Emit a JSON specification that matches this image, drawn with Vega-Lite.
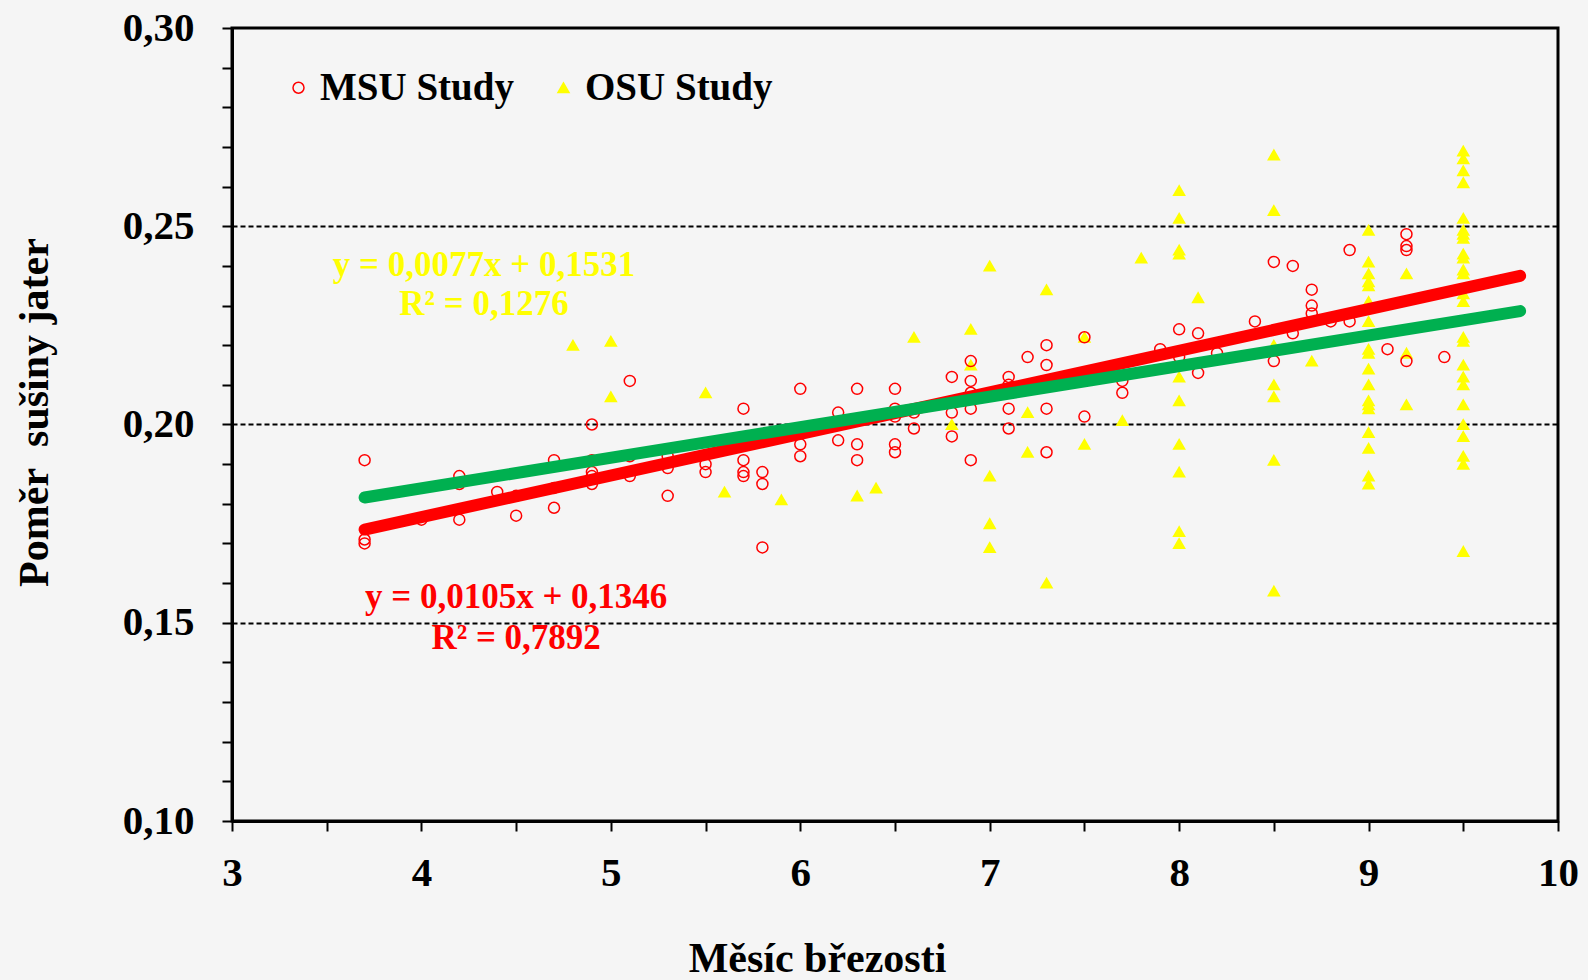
{
  "$schema": "https://vega.github.io/schema/vega-lite/v6.json",
  "width": 1326,
  "height": 793,
  "autosize": {"type": "none"},
  "padding": {"left": 232, "top": 28, "right": 30, "bottom": 159},
  "background": "#F5F5F5",
  "config": {"view": {"stroke": "#000000", "strokeWidth": 3}, "font": "Liberation Serif"},
  "datasets": {
    "pts": [
      {"series":"OSU Study","x":4.8,"y":0.220},
      {"series":"OSU Study","x":5.0,"y":0.221},{"series":"OSU Study","x":5.0,"y":0.207},
      {"series":"OSU Study","x":5.5,"y":0.208},
      {"series":"OSU Study","x":5.6,"y":0.183},
      {"series":"OSU Study","x":5.9,"y":0.181},
      {"series":"OSU Study","x":6.3,"y":0.182},
      {"series":"OSU Study","x":6.4,"y":0.184},
      {"series":"OSU Study","x":6.6,"y":0.222},
      {"series":"OSU Study","x":6.8,"y":0.200},
      {"series":"OSU Study","x":6.9,"y":0.224},{"series":"OSU Study","x":6.9,"y":0.215},
      {"series":"OSU Study","x":7.0,"y":0.240},{"series":"OSU Study","x":7.0,"y":0.187},{"series":"OSU Study","x":7.0,"y":0.175},{"series":"OSU Study","x":7.0,"y":0.169},
      {"series":"OSU Study","x":7.2,"y":0.203},{"series":"OSU Study","x":7.2,"y":0.193},
      {"series":"OSU Study","x":7.3,"y":0.234},{"series":"OSU Study","x":7.3,"y":0.160},
      {"series":"OSU Study","x":7.5,"y":0.222},{"series":"OSU Study","x":7.5,"y":0.195},
      {"series":"OSU Study","x":7.7,"y":0.201},
      {"series":"OSU Study","x":7.8,"y":0.242},
      {"series":"OSU Study","x":8.0,"y":0.259},{"series":"OSU Study","x":8.0,"y":0.252},{"series":"OSU Study","x":8.0,"y":0.244},{"series":"OSU Study","x":8.0,"y":0.243},{"series":"OSU Study","x":8.0,"y":0.212},{"series":"OSU Study","x":8.0,"y":0.206},{"series":"OSU Study","x":8.0,"y":0.195},{"series":"OSU Study","x":8.0,"y":0.188},{"series":"OSU Study","x":8.0,"y":0.173},{"series":"OSU Study","x":8.0,"y":0.170},
      {"series":"OSU Study","x":8.1,"y":0.232},
      {"series":"OSU Study","x":8.5,"y":0.268},{"series":"OSU Study","x":8.5,"y":0.254},{"series":"OSU Study","x":8.5,"y":0.220},{"series":"OSU Study","x":8.5,"y":0.210},{"series":"OSU Study","x":8.5,"y":0.207},{"series":"OSU Study","x":8.5,"y":0.191},{"series":"OSU Study","x":8.5,"y":0.158},
      {"series":"OSU Study","x":8.7,"y":0.216},
      {"series":"OSU Study","x":9.0,"y":0.249},{"series":"OSU Study","x":9.0,"y":0.241},{"series":"OSU Study","x":9.0,"y":0.238},{"series":"OSU Study","x":9.0,"y":0.236},{"series":"OSU Study","x":9.0,"y":0.235},{"series":"OSU Study","x":9.0,"y":0.231},{"series":"OSU Study","x":9.0,"y":0.226},{"series":"OSU Study","x":9.0,"y":0.219},{"series":"OSU Study","x":9.0,"y":0.218},{"series":"OSU Study","x":9.0,"y":0.214},{"series":"OSU Study","x":9.0,"y":0.210},{"series":"OSU Study","x":9.0,"y":0.206},{"series":"OSU Study","x":9.0,"y":0.205},{"series":"OSU Study","x":9.0,"y":0.204},{"series":"OSU Study","x":9.0,"y":0.198},{"series":"OSU Study","x":9.0,"y":0.194},{"series":"OSU Study","x":9.0,"y":0.187},{"series":"OSU Study","x":9.0,"y":0.185},
      {"series":"OSU Study","x":9.2,"y":0.238},{"series":"OSU Study","x":9.2,"y":0.218},{"series":"OSU Study","x":9.2,"y":0.205},
      {"series":"OSU Study","x":9.5,"y":0.269},{"series":"OSU Study","x":9.5,"y":0.267},{"series":"OSU Study","x":9.5,"y":0.264},{"series":"OSU Study","x":9.5,"y":0.261},{"series":"OSU Study","x":9.5,"y":0.252},{"series":"OSU Study","x":9.5,"y":0.249},{"series":"OSU Study","x":9.5,"y":0.248},{"series":"OSU Study","x":9.5,"y":0.247},{"series":"OSU Study","x":9.5,"y":0.243},{"series":"OSU Study","x":9.5,"y":0.242},{"series":"OSU Study","x":9.5,"y":0.239},{"series":"OSU Study","x":9.5,"y":0.238},{"series":"OSU Study","x":9.5,"y":0.233},{"series":"OSU Study","x":9.5,"y":0.231},{"series":"OSU Study","x":9.5,"y":0.222},{"series":"OSU Study","x":9.5,"y":0.221},{"series":"OSU Study","x":9.5,"y":0.215},{"series":"OSU Study","x":9.5,"y":0.212},{"series":"OSU Study","x":9.5,"y":0.210},{"series":"OSU Study","x":9.5,"y":0.205},{"series":"OSU Study","x":9.5,"y":0.200},{"series":"OSU Study","x":9.5,"y":0.197},{"series":"OSU Study","x":9.5,"y":0.192},{"series":"OSU Study","x":9.5,"y":0.190},{"series":"OSU Study","x":9.5,"y":0.168},
      {"series":"MSU Study","x":3.7,"y":0.191},{"series":"MSU Study","x":3.7,"y":0.171},{"series":"MSU Study","x":3.7,"y":0.170},
      {"series":"MSU Study","x":4.0,"y":0.176},
      {"series":"MSU Study","x":4.2,"y":0.187},{"series":"MSU Study","x":4.2,"y":0.185},{"series":"MSU Study","x":4.2,"y":0.176},
      {"series":"MSU Study","x":4.4,"y":0.183},
      {"series":"MSU Study","x":4.5,"y":0.182},{"series":"MSU Study","x":4.5,"y":0.177},
      {"series":"MSU Study","x":4.7,"y":0.191},{"series":"MSU Study","x":4.7,"y":0.184},{"series":"MSU Study","x":4.7,"y":0.179},
      {"series":"MSU Study","x":4.9,"y":0.200},{"series":"MSU Study","x":4.9,"y":0.191},{"series":"MSU Study","x":4.9,"y":0.188},{"series":"MSU Study","x":4.9,"y":0.187},{"series":"MSU Study","x":4.9,"y":0.185},
      {"series":"MSU Study","x":5.1,"y":0.211},{"series":"MSU Study","x":5.1,"y":0.192},{"series":"MSU Study","x":5.1,"y":0.187},
      {"series":"MSU Study","x":5.3,"y":0.192},{"series":"MSU Study","x":5.3,"y":0.189},{"series":"MSU Study","x":5.3,"y":0.182},
      {"series":"MSU Study","x":5.5,"y":0.190},{"series":"MSU Study","x":5.5,"y":0.188},
      {"series":"MSU Study","x":5.7,"y":0.204},{"series":"MSU Study","x":5.7,"y":0.191},{"series":"MSU Study","x":5.7,"y":0.188},{"series":"MSU Study","x":5.7,"y":0.187},
      {"series":"MSU Study","x":5.8,"y":0.188},{"series":"MSU Study","x":5.8,"y":0.185},{"series":"MSU Study","x":5.8,"y":0.169},
      {"series":"MSU Study","x":6.0,"y":0.209},{"series":"MSU Study","x":6.0,"y":0.195},{"series":"MSU Study","x":6.0,"y":0.192},
      {"series":"MSU Study","x":6.2,"y":0.203},{"series":"MSU Study","x":6.2,"y":0.196},
      {"series":"MSU Study","x":6.3,"y":0.209},{"series":"MSU Study","x":6.3,"y":0.195},{"series":"MSU Study","x":6.3,"y":0.191},
      {"series":"MSU Study","x":6.5,"y":0.209},{"series":"MSU Study","x":6.5,"y":0.204},{"series":"MSU Study","x":6.5,"y":0.202},{"series":"MSU Study","x":6.5,"y":0.195},{"series":"MSU Study","x":6.5,"y":0.193},
      {"series":"MSU Study","x":6.6,"y":0.203},{"series":"MSU Study","x":6.6,"y":0.199},
      {"series":"MSU Study","x":6.8,"y":0.212},{"series":"MSU Study","x":6.8,"y":0.203},{"series":"MSU Study","x":6.8,"y":0.197},
      {"series":"MSU Study","x":6.9,"y":0.216},{"series":"MSU Study","x":6.9,"y":0.211},{"series":"MSU Study","x":6.9,"y":0.208},{"series":"MSU Study","x":6.9,"y":0.204},{"series":"MSU Study","x":6.9,"y":0.191},
      {"series":"MSU Study","x":7.1,"y":0.212},{"series":"MSU Study","x":7.1,"y":0.210},{"series":"MSU Study","x":7.1,"y":0.204},{"series":"MSU Study","x":7.1,"y":0.199},
      {"series":"MSU Study","x":7.2,"y":0.217},
      {"series":"MSU Study","x":7.3,"y":0.220},{"series":"MSU Study","x":7.3,"y":0.215},{"series":"MSU Study","x":7.3,"y":0.204},{"series":"MSU Study","x":7.3,"y":0.193},
      {"series":"MSU Study","x":7.5,"y":0.222},{"series":"MSU Study","x":7.5,"y":0.202},
      {"series":"MSU Study","x":7.7,"y":0.211},{"series":"MSU Study","x":7.7,"y":0.208},
      {"series":"MSU Study","x":7.9,"y":0.219},
      {"series":"MSU Study","x":8.0,"y":0.224},{"series":"MSU Study","x":8.0,"y":0.217},
      {"series":"MSU Study","x":8.1,"y":0.223},{"series":"MSU Study","x":8.1,"y":0.213},
      {"series":"MSU Study","x":8.2,"y":0.218},
      {"series":"MSU Study","x":8.4,"y":0.226},
      {"series":"MSU Study","x":8.5,"y":0.241},{"series":"MSU Study","x":8.5,"y":0.216},
      {"series":"MSU Study","x":8.6,"y":0.240},{"series":"MSU Study","x":8.6,"y":0.223},
      {"series":"MSU Study","x":8.7,"y":0.234},{"series":"MSU Study","x":8.7,"y":0.230},{"series":"MSU Study","x":8.7,"y":0.228},
      {"series":"MSU Study","x":8.8,"y":0.226},
      {"series":"MSU Study","x":8.9,"y":0.244},{"series":"MSU Study","x":8.9,"y":0.226},
      {"series":"MSU Study","x":9.1,"y":0.219},
      {"series":"MSU Study","x":9.2,"y":0.248},{"series":"MSU Study","x":9.2,"y":0.245},{"series":"MSU Study","x":9.2,"y":0.244},{"series":"MSU Study","x":9.2,"y":0.216},
      {"series":"MSU Study","x":9.4,"y":0.217}
    ],
    "fits": [
      {"fit":"MSU","x":3.7,"y":0.1735},{"fit":"MSU","x":9.8,"y":0.2375},
      {"fit":"OSU","x":3.7,"y":0.1816},{"fit":"OSU","x":9.8,"y":0.2286}
    ]
  },
  "encoding": {
    "x": {"field":"x","type":"quantitative","title":"Měsíc březosti",
      "scale":{"domain":[3,10],"nice":false,"zero":false},
      "axis":{"values":[3,3.5,4,4.5,5,5.5,6,6.5,7,7.5,8,8.5,9,9.5,10],
        "labelExpr":"datum.value % 1 === 0 ? format(datum.value,'d') : ''",
        "grid":false,"domainColor":"#000000","domainWidth":3,"tickColor":"#000000","tickWidth":2,"tickSize":10,
        "labelFont":"Liberation Serif","labelFontSize":41,"labelFontWeight":"bold","labelColor":"#000000","labelPadding":22,
        "labelOverlap":false,"labelFlush":false,
        "titleFont":"Liberation Serif","titleFontSize":42,"titleFontWeight":"bold","titleColor":"#000000",
        "titleX":585,"titleY":150,"titleBaseline":"alphabetic","titleAlign":"center"}},
    "y": {"field":"y","type":"quantitative","title":"Poměr\u00a0 sušiny jater",
      "scale":{"domain":[0.1,0.3],"nice":false,"zero":false},
      "axis":{"values":[0.10,0.11,0.12,0.13,0.14,0.15,0.16,0.17,0.18,0.19,0.20,0.21,0.22,0.23,0.24,0.25,0.26,0.27,0.28,0.29,0.30],
        "labelExpr":"abs(datum.value*20 - round(datum.value*20)) < 0.01 ? replace(format(datum.value,'.2f'),'.',',') : ''",
        "grid":true,"gridColor":"#000000","gridWidth":2,"gridDash":[5,3],
        "gridOpacity":{"condition":{"test":"datum.value > 0.11 && datum.value < 0.29 && abs(datum.value*20 - round(datum.value*20)) < 0.01","value":1},"value":0},
        "domainColor":"#000000","domainWidth":3,"tickColor":"#000000","tickWidth":2,"tickSize":10,
        "labelFont":"Liberation Serif","labelFontSize":41,"labelFontWeight":"bold","labelColor":"#000000","labelPadding":28,
        "labelOverlap":false,"labelFlush":false,
        "titleFont":"Liberation Serif","titleFontSize":42,"titleFontWeight":"bold","titleColor":"#000000",
        "titleAngle":270,"titleX":-185,"titleY":384,"titleBaseline":"alphabetic","titleAlign":"center"}}
  },
  "layer": [
    {
      "data": {"name": "pts"},
      "mark": {"type":"point","strokeWidth":1.5,"opacity":1},
      "encoding": {
        "shape": {"field":"series","type":"nominal","scale":{"domain":["MSU Study","OSU Study"],"range":["circle","triangle-up"]},
          "legend":{"orient":"none","legendX":47,"legendY":40,"direction":"horizontal","title":null,"labelFont":"Liberation Serif","labelFontSize":39,"labelFontWeight":"bold","labelColor":"#000000","labelLimit":600,"symbolSize":121,"labelOffset":2,"columnPadding":30,"padding":0,"symbolStrokeWidth":1.5}},
        "stroke": {"field":"series","type":"nominal","scale":{"domain":["MSU Study","OSU Study"],"range":["#FF0000","#FFFF00"]},
          "legend":{"orient":"none","legendX":47,"legendY":40,"direction":"horizontal","title":null,"labelFont":"Liberation Serif","labelFontSize":39,"labelFontWeight":"bold","labelColor":"#000000","labelLimit":600,"symbolSize":121,"labelOffset":2,"columnPadding":30,"padding":0,"symbolStrokeWidth":1.5}},
        "fill": {"field":"series","type":"nominal","scale":{"domain":["MSU Study","OSU Study"],"range":["transparent","#FFFF00"]},
          "legend":{"orient":"none","legendX":47,"legendY":40,"direction":"horizontal","title":null,"labelFont":"Liberation Serif","labelFontSize":39,"labelFontWeight":"bold","labelColor":"#000000","labelLimit":600,"symbolSize":121,"labelOffset":2,"columnPadding":30,"padding":0,"symbolStrokeWidth":1.5}},
        "size": {"value":121}
      }
    },
    {
      "data": {"name": "fits"},
      "mark": {"type":"line","strokeWidth":12,"strokeCap":"round"},
      "encoding": {
        "color": {"field":"fit","type":"nominal","scale":{"domain":["MSU","OSU"],"range":["#FF0000","#00B050"]},"legend":null}
      }
    },
    {
      "data": {"values": [{"t":"y = 0,0077x + 0,1531","x":4.33,"y":0.2402},{"t":"R² = 0,1276","x":4.33,"y":0.2304}]},
      "mark": {"type":"text","font":"Liberation Serif","fontSize":35,"fontWeight":"bold","color":"#FFFF00","align":"center","baseline":"middle"},
      "encoding": {"text": {"field":"t"}}
    },
    {
      "data": {"values": [{"t":"y = 0,0105x + 0,1346","x":4.50,"y":0.1564},{"t":"R² = 0,7892","x":4.50,"y":0.1462}]},
      "mark": {"type":"text","font":"Liberation Serif","fontSize":35,"fontWeight":"bold","color":"#FF0000","align":"center","baseline":"middle"},
      "encoding": {"text": {"field":"t"}}
    }
  ]
}
